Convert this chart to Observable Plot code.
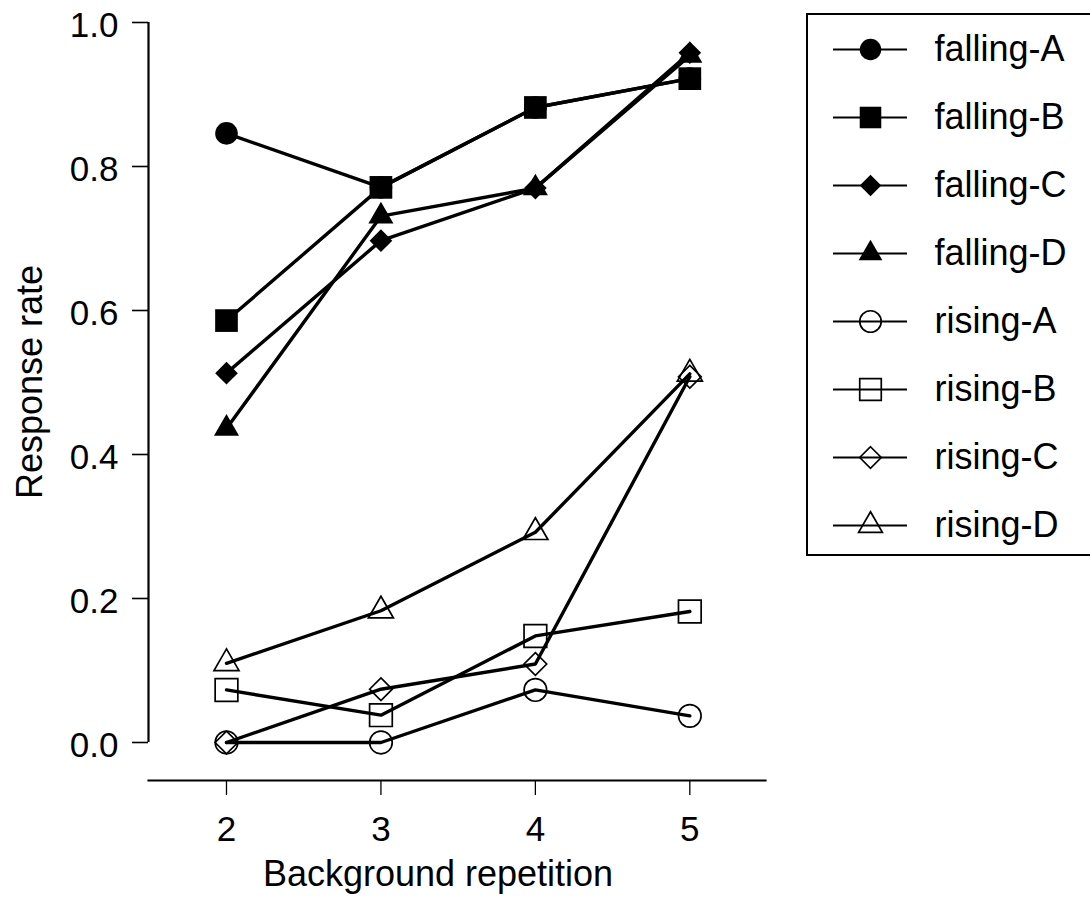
<!DOCTYPE html>
<html>
<head>
<meta charset="utf-8">
<script src="https://cdn.jsdelivr.net/npm/d3@7"></script>
<script src="https://cdn.jsdelivr.net/npm/@observablehq/plot@0.6"></script>
<style>
  html, body { margin: 0; padding: 0; background: #fff; overflow: hidden; }
  #wrap { position: relative; width: 1090px; height: 898px; overflow: hidden; font-family: "Liberation Sans", Arial, Helvetica, sans-serif; color: #000; }
  #chart { position: absolute; left: 0; top: 0; }
  #legend { position: absolute; left: 806px; top: 13px; width: 300px; height: 543px; border: 2px solid #000; border-right: none; box-sizing: border-box; background: #fff; overflow: hidden; }
  .title { position: absolute; font-size: 36px; line-height: 36px; height: 36px; width: 440px; text-align: center; white-space: nowrap; }
</style>
</head>
<body>
<div id="wrap">
  <div id="chart"></div>
  <div id="legend"></div>
  <div class="title" id="xtitle"></div>
  <div class="title" id="ytitle"></div>
</div>
<script>
// ---------- data ----------
const reps = [2, 3, 4, 5];
const seriesNames = ["falling-A", "falling-B", "falling-C", "falling-D",
                     "rising-A", "rising-B", "rising-C", "rising-D"];
const fallingA = [0.846, 0.771, 0.882, 0.922];
const fallingB = [0.586, 0.771, 0.882, 0.922];
const fallingC = [0.513, 0.697, 0.770, 0.958];
const fallingD = [0.436, 0.731, 0.770, 0.954];
const risingA  = [0.000, 0.000, 0.073, 0.037];
const risingB  = [0.073, 0.038, 0.148, 0.182];
const risingC  = [0.000, 0.074, 0.109, 0.508];
const risingD  = [0.110, 0.183, 0.292, 0.512];
const yTicks = [0, 0.2, 0.4, 0.6, 0.8, 1.0];
const xTicks = [2, 3, 4, 5];
const xLabel = "Background repetition";
const yLabel = "Response rate";

// ---------- styling ----------
const seriesValues = [fallingA, fallingB, fallingC, fallingD, risingA, risingB, risingC, risingD];
const symbolOf = ["circle", "square", "diamond2", "triangle", "circle", "square", "diamond2", "triangle"];
const filledOf = [true, true, true, true, false, false, false, false];
const rOf = {circle: 11.3, square: 12.8, diamond2: 10.2, triangle: 9.3};
const font = "'Liberation Sans', Arial, Helvetica, sans-serif";

const rows = seriesNames.flatMap((s, i) =>
  reps.map((r, j) => ({series: s, rep: r, rate: seriesValues[i][j]})));

function dotMark(data, i, xOpt, yOpt, scale = 1) {
  const sym = symbolOf[i];
  return Plot.dot(data, {
    x: xOpt, y: yOpt,
    symbol: sym, r: rOf[sym] * scale,
    fill: filledOf[i] ? "black" : "none",
    stroke: filledOf[i] ? "none" : "black",
    strokeWidth: 1.7
  });
}

// ---------- main chart ----------
const xDomain = [1.495, 5.49];
const main = Plot.plot({
  width: 1090,
  height: 898,
  marginLeft: 148,
  marginRight: 325,
  marginTop: 22,
  marginBottom: 118,
  x: {domain: xDomain},
  y: {domain: [0, 1], range: [742, 22]},
  style: {fontFamily: font, fontSize: "35px", color: "black", background: "white", overflow: "visible"},
  marks: [
    Plot.frame({anchor: "bottom", strokeWidth: 2.2}),
    Plot.ruleX([xDomain[0]], {y1: 0, y2: 1, strokeWidth: 2.2}),
    // y ticks
    Plot.axisY({ticks: yTicks, tickSize: 16, fill: "none", label: null, strokeWidth: 1.6}),
    // y tick labels
    Plot.axisY({ticks: yTicks, tickFormat: d3.format(".1f"), tickSize: 16, tickPadding: 14,
                stroke: "none", label: null, fontSize: 35, dy: 3}),
    Plot.axisX({ticks: xTicks, tickFormat: d3.format("d"), tickSize: 15, tickPadding: 21,
                label: null, fontSize: 35, strokeWidth: 1.3}),
    Plot.line(rows, {x: "rep", y: "rate", z: "series", stroke: "black", strokeWidth: 3.4}),
    ...seriesNames.map((s, i) => dotMark(rows.filter(d => d.series === s), i, "rep", "rate"))
  ]
});
document.getElementById("chart").appendChild(main);

// ---------- legend ----------
const legend = Plot.plot({
  width: 298,
  height: 539,
  margin: 0,
  x: {domain: [0, 1], range: [25, 99], axis: null},
  y: {type: "point", padding: 0, domain: seriesNames, range: [33, 511], axis: null},
  style: {fontFamily: font, fontSize: "36px", color: "black", background: "transparent"},
  marks: [
    Plot.ruleY(seriesNames, {y: d => d, x1: 0, x2: 1, stroke: "black", strokeWidth: 2.2}),
    ...seriesNames.map((s, i) => dotMark([s], i, () => 0.5, d => d, 0.95)),
    Plot.text(seriesNames, {x: () => 1, y: d => d, text: d => d, textAnchor: "start", dx: 27, fontSize: 36})
  ]
});
document.getElementById("legend").appendChild(legend);

// ---------- axis titles ----------
const xt = document.getElementById("xtitle");
xt.textContent = xLabel;
xt.style.left = (438 - 220) + "px";
xt.style.top = "856px";
const yt = document.getElementById("ytitle");
yt.textContent = yLabel;
yt.style.left = (30 - 220) + "px";
yt.style.top = (382 - 18) + "px";
yt.style.transform = "rotate(-90deg)";
</script>
</body>
</html>
